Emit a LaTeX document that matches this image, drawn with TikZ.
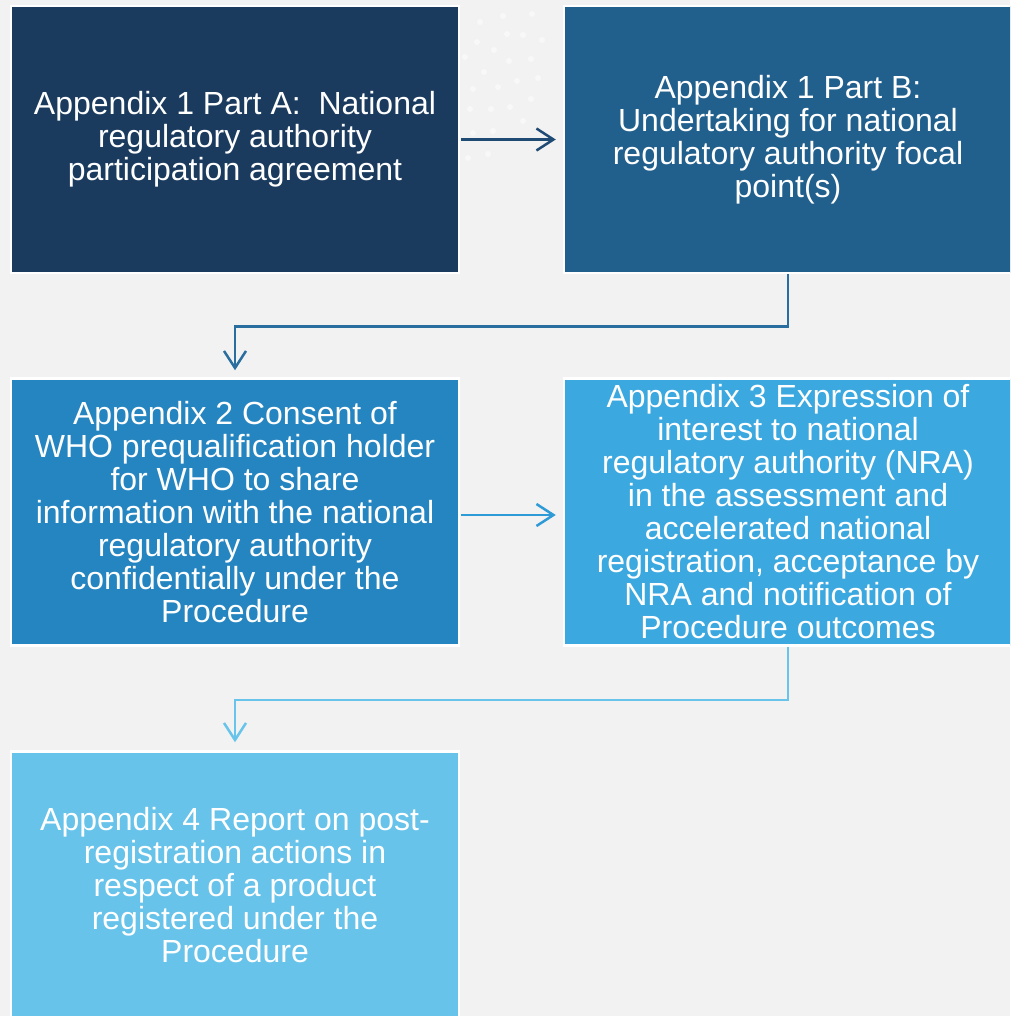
\documentclass[tikz,border=0pt]{standalone}
\usepackage{fontspec}
\setmainfont{Liberation Sans}
\usetikzlibrary{arrows.meta}
\definecolor{bgc}{HTML}{F2F2F2}
\definecolor{dotc}{HTML}{F8F8F8}
\definecolor{cA}{HTML}{1B3B5E}
\definecolor{cB}{HTML}{215F8C}
\definecolor{cC}{HTML}{2585C0}
\definecolor{cD}{HTML}{3CA8E0}
\definecolor{cE}{HTML}{68C3EA}
\definecolor{aA}{HTML}{1F4A73}
\definecolor{aB}{HTML}{2A6EA0}
\definecolor{aC}{HTML}{2E9AD6}
\definecolor{aD}{HTML}{68C4EA}
\tikzset{
  box/.style={rectangle, draw=white, line width=2.5pt, inner sep=0pt,
    minimum width=448pt, minimum height=267pt, text=white, align=center,
    font=\fontsize{32}{33}\selectfont},
  conn/.style={line width=2.5pt, -{Straight Barb[length=17pt,width=22pt,line width=2.5pt]}},
  bgdot/.style={fill=dotc, draw=none}
}
\begin{document}
\begin{tikzpicture}[x=1pt,y=-1pt]
\useasboundingbox (0,0) rectangle (1010,1016);
\clip (0,0) rectangle (1010,1016);
\fill[bgc] (0,0) rectangle (1010,1016);
% faint background dots
\foreach \px/\py in {480/22,503/16,532/14,477/42,507/34,523/35,542/40,494/50,465/57,509/61,531/59,484/72,517/81,538/78,473/89,498/87,531/99,470/109,491/109,510/107,523/121,473/133,493/131,468/158,488/154}
  \fill[bgdot] (\px,\py) circle (3pt);
\node[box, fill=cA] (b1) at (235,139.5) {Appendix 1 Part A:\ \ National\\regulatory authority\\participation agreement};
\node[box, fill=cB] (b2) at (788,139.5) {Appendix 1 Part B:\\Undertaking for national\\regulatory authority focal\\point(s)};
\node[box, fill=cC] (b3) at (235,512) {Appendix 2 Consent of\\WHO prequalification holder\\for WHO to share\\information with the national\\regulatory authority\\confidentially under the\\Procedure};
\node[box, fill=cD] (b4) at (788,512) {Appendix 3 Expression of\\interest to national\\regulatory authority (NRA)\\in the assessment and\\accelerated national\\registration, acceptance by\\NRA and notification of\\Procedure outcomes};
\node[box, fill=cE] (b5) at (235,885) {Appendix 4 Report on post-\\registration actions in\\respect of a product\\registered under the\\Procedure};
\draw[conn, aA, shorten >=7pt, shorten <=1pt] (b1.east) -- (b2.west);
\draw[conn, aB, shorten >=7pt] (b2.south) -- ++(0,52) -| (b3.north);
\draw[conn, aC, shorten >=7pt, shorten <=1pt] ([yshift=-3pt]b3.east) -- ([yshift=-3pt]b4.west);
\draw[conn, aD, shorten >=8pt] (b4.south) -- ++(0,53) -| (b5.north);
\end{tikzpicture}
\end{document}
